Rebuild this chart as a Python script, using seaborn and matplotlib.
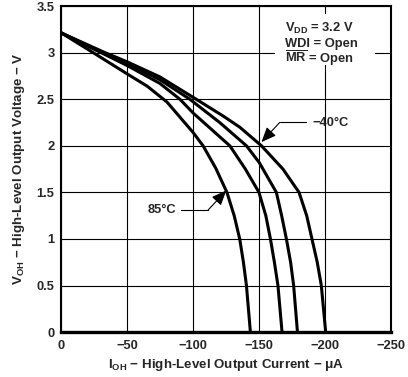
"""VOH vs IOH curves for four temperatures"""

import pandas as pd
import seaborn as sns
import matplotlib.pyplot as plt
from matplotlib.patches import Rectangle

# values (IOH in uA, VOH in V)
i_85 = [0, -24, -50, -65, -80, -100, -107.4, -117, -125.5, -131, -135.2, -138, -140.3, -143.3]
v_85 = [3.21, 3.0, 2.77, 2.64, 2.47, 2.14, 2.0, 1.76, 1.5, 1.25, 1.0, 0.75, 0.5, 0]

i_25 = [0, -30, -50, -74.6, -89.8, -100, -127.7, -139.5, -149.8, -155, -158.5, -161.5, -164.2, -167.3]
v_25 = [3.21, 3.0, 2.86, 2.67, 2.5, 2.35, 2.0, 1.75, 1.5, 1.25, 1.0, 0.75, 0.5, 0]

i_0 = [0, -31, -50, -74.6, -97.3, -120, -140.3, -150, -163, -167, -170.6, -173.8, -176.1, -179]
v_0 = [3.21, 3.0, 2.88, 2.71, 2.5, 2.25, 2.0, 1.82, 1.5, 1.25, 1.0, 0.75, 0.5, 0]

i_m40 = [0, -33, -50, -74.6, -101, -122.6, -135.2, -151.7, -168, -180.2, -186, -190, -194, -197.1, -200.4]
v_m40 = [3.21, 3.0, 2.9, 2.74, 2.51, 2.32, 2.2, 2.0, 1.75, 1.5, 1.25, 1.0, 0.75, 0.5, 0]

x_ticks = [0, -50, -100, -150, -200, -250]
y_ticks = [0, 0.5, 1, 1.5, 2, 2.5, 3, 3.5]

rows = []
for name, xs, ys in [("85", i_85, v_85), ("25", i_25, v_25), ("0", i_0, v_0), ("-40", i_m40, v_m40)]:
    for x, y in zip(xs, ys):
        rows.append({"temp": name, "ioh": x, "voh": y})
df = pd.DataFrame(rows)

sns.set_style("white")
plt.rcParams["font.family"] = ["Liberation Sans", "DejaVu Sans"]
plt.rcParams["font.weight"] = "bold"
plt.rcParams["axes.labelweight"] = "bold"
plt.rcParams["mathtext.fontset"] = "custom"
plt.rcParams["mathtext.rm"] = "Liberation Sans:bold"
plt.rcParams["mathtext.bf"] = "Liberation Sans:bold"
plt.rcParams["mathtext.it"] = "Liberation Sans:bold"
plt.rcParams["mathtext.default"] = "rm"

FS = 9.3

fig = plt.figure(figsize=(4.08, 3.77), dpi=100)
ax = fig.add_axes([0.1507, 0.119, 0.8078, 0.865])

sns.lineplot(data=df, x="ioh", y="voh", hue="temp", palette=["black"] * 4,
             estimator=None, sort=False, legend=False, lw=2.2, ax=ax)
for ln in ax.lines:
    ln.set_solid_joinstyle("round")

ax.set_xlim(0, -250)
ax.set_ylim(0, 3.5)
ax.set_xticks(x_ticks)
ax.set_yticks(y_ticks)
ax.set_yticklabels([f"{t:g}" for t in y_ticks])
ax.grid(True, color="black", lw=0.8)
ax.tick_params(length=0, labelsize=FS)
ax.tick_params(axis="x", pad=6)
ax.tick_params(axis="y", pad=5)
for s in ax.spines.values():
    s.set_color("black")
    s.set_linewidth(1.5)
ax.spines["bottom"].set_linewidth(2.4)

ax.set_xlabel(r"$\mathrm{I_{OH}}$ − High-Level Output Current − μA", fontsize=9.6, labelpad=3)
ax.set_ylabel(r"$\mathrm{V_{OH}}$ − High-Level Output Voltage − V", fontsize=9.6, labelpad=7)

# conditions box
ax.add_patch(Rectangle((-161.7, 2.863), -75.8, 0.552, facecolor="white", edgecolor="none", zorder=2.5))
cond = [r"$\mathrm{V_{DD}}$ = 3.2 V", "WDI = Open", r"$\overline{\mathrm{MR}}$ = Open"]
for k, line in enumerate(cond):
    ax.text(-169.3, 3.255 - 0.159 * k, line, fontsize=FS, fontweight="bold",
            va="center", ha="left", zorder=3)

# temperature callouts
head = "-|>,head_length=0.9,head_width=0.38"
ax.annotate("", xy=(-151.7, 2.04), xytext=(-165.5, 2.25),
            arrowprops=dict(arrowstyle=head, color="black", lw=0.8, shrinkA=0, shrinkB=0))
ax.plot([-165.5, -185.8], [2.25, 2.25], color="black", lw=0.8)
ax.text(-190.5, 2.24, "−40°C", fontsize=FS, fontweight="bold", va="center", ha="left")

ax.annotate("", xy=(-125, 1.52), xytext=(-111.2, 1.31),
            arrowprops=dict(arrowstyle=head, color="black", lw=0.8, shrinkA=0, shrinkB=0))
ax.plot([-91, -111.2], [1.31, 1.31], color="black", lw=0.8)
ax.text(-87.3, 1.31, "85°C", fontsize=FS, fontweight="bold", va="center", ha="right")

fig.savefig("out.png", dpi=100)
